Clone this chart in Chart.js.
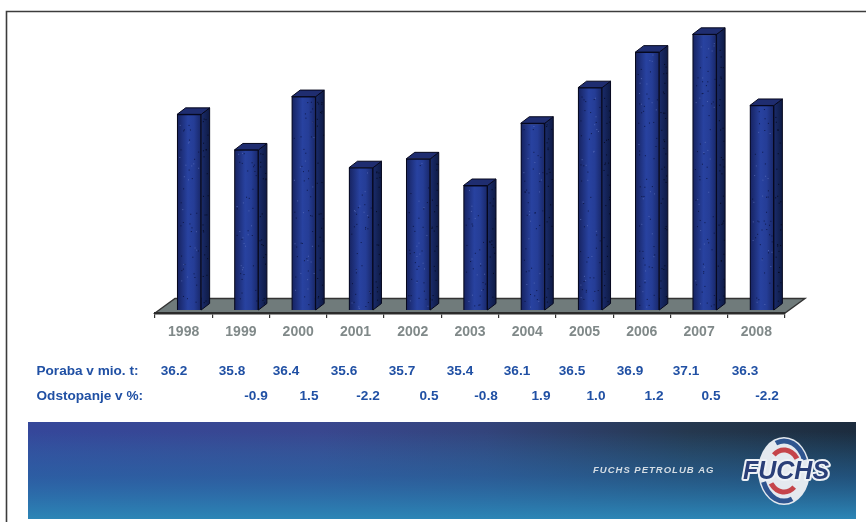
<!DOCTYPE html>
<html>
<head>
<meta charset="utf-8">
<style>
html,body{margin:0;padding:0;background:#fff;overflow:hidden}
#wrap{width:866px;height:522px;position:relative}
</style>
<script src="https://cdn.jsdelivr.net/npm/chart.js@4/dist/chart.umd.min.js"></script>
</head>
<body>
<div id="wrap"><canvas id="c" width="866" height="522"></canvas></div>
<script>
const years = ['1998','1999','2000','2001','2002','2003','2004','2005','2006','2007','2008'];
const consumption = [36.2,35.8,36.4,35.6,35.7,35.4,36.1,36.5,36.9,37.1,36.3];
const deviationLabels = ['','-0.9','1.5','-2.2','0.5','-0.8','1.9','1.0','1.2','0.5','-2.2'];
const consumptionLabels = ['36.2','35.8','36.4','35.6','35.7','35.4','36.1','36.5','36.9','37.1','36.3'];
const rowTitles = ['Poraba v mio. t:','Odstopanje v %:'];
const rowOneCenters = [174,232,286,344,402,460,517,572,630,686,745];
const rowTwoCenters = [0,256,309,368,429,486,541,596,654,711,767];
const bannerCaption = 'FUCHS PETROLUB AG';
const logoWord = 'FUCHS';

const SHIFT_X = 5.5, SHIFT_Y = -3, DX = 8.5, DY = 6.5, BAR_W = 24;
const BLUE = '#2050a4';

function hash(a){const s=Math.sin(a*127.1+11.7)*43758.5453;return s-Math.floor(s);}

const scene = {
  id:'scene',
  beforeDraw(chart){
    const c = chart.ctx, a = chart.chartArea;
    c.save();
    c.strokeStyle='#3c3c3c'; c.lineWidth=1.6;
    c.beginPath(); c.moveTo(6.5,522); c.lineTo(6.5,11.5); c.lineTo(866,11.5); c.stroke();
    c.fillStyle='#707b7b'; c.strokeStyle='#333'; c.lineWidth=1.4;
    c.beginPath();
    c.moveTo(a.left,a.bottom); c.lineTo(a.left+20,a.bottom-14.5);
    c.lineTo(a.right+20,a.bottom-14.5); c.lineTo(a.right,a.bottom); c.closePath();
    c.fill(); c.stroke();
    c.restore();
    drawBanner(c);
    drawTable(c);
  },
  beforeDatasetsDraw(chart){
    const c = chart.ctx;
    c.save();
    c.translate(SHIFT_X,SHIFT_Y);
    chart.getDatasetMeta(0).data.forEach(b=>{
      const l=b.x-BAR_W/2, r=b.x+BAR_W/2, t=b.y, base=b.base;
      c.lineWidth=1; c.strokeStyle='#06081e';
      const g=c.createLinearGradient(r,0,r+DX,0);
      g.addColorStop(0,'#1a2c6c'); g.addColorStop(1,'#0e1a44');
      c.fillStyle=g;
      c.beginPath(); c.moveTo(r,t); c.lineTo(r+DX,t-DY); c.lineTo(r+DX,base-DY); c.lineTo(r,base); c.closePath();
      c.fill(); c.stroke();
      c.fillStyle='#1f2d70';
      c.beginPath(); c.moveTo(l,t); c.lineTo(l+DX,t-DY); c.lineTo(r+DX,t-DY); c.lineTo(r,t); c.closePath();
      c.fill(); c.stroke();
    });
  },
  afterDatasetsDraw(chart){
    const c = chart.ctx;
    chart.getDatasetMeta(0).data.forEach((b,i)=>{
      const l=b.x-BAR_W/2, t=b.y, h=b.base-b.y;
      const n=Math.round(h/4);
      for(let k=0;k<n;k++){
        const px=l+2+hash(i*31+k*1.7)*(BAR_W-4), py=t+2+hash(i*17+k*2.3+5)*(h-4);
        c.fillStyle = k%3 ? 'rgba(8,14,50,0.75)' : 'rgba(95,115,190,0.7)';
        c.fillRect(px,py,1,1);
      }
      for(let k=0;k<Math.round(h/8);k++){
        const px=l+BAR_W+1+hash(i*7+k*3.1)*(DX-2), py=t+hash(i*13+k*1.3+9)*(h-6);
        c.fillStyle='rgba(2,6,22,0.8)';
        c.fillRect(px,py,1,1);
      }
    });
    c.restore();
  }
};

function drawTable(c){
  c.save();
  c.fillStyle=BLUE; c.font='bold 13.6px "Liberation Sans"'; c.textBaseline='middle';
  c.textAlign='left';
  c.fillText(rowTitles[0],36.5,371.5);
  c.fillText(rowTitles[1],36.5,396.5);
  c.textAlign='center';
  consumptionLabels.forEach((s,i)=>c.fillText(s,rowOneCenters[i],371.5));
  deviationLabels.forEach((s,i)=>{ if(s) c.fillText(s,rowTwoCenters[i],396.5); });
  c.restore();
}

function drawBanner(c){
  const x=28,y=422,w=828,h=97;
  c.save();
  let g=c.createLinearGradient(x,0,x+w,0);
  g.addColorStop(0,'#35479a'); g.addColorStop(.35,'#39478f'); g.addColorStop(.55,'#33447c');
  g.addColorStop(.8,'#25384f'); g.addColorStop(1,'#1c2c3e');
  c.fillStyle=g; c.fillRect(x,y,w,h);
  g=c.createLinearGradient(0,y,0,y+h);
  g.addColorStop(.1,'rgba(40,125,180,0)'); g.addColorStop(.55,'rgba(38,110,170,.55)'); g.addColorStop(1,'rgba(44,134,182,1)');
  c.fillStyle=g; c.fillRect(x,y,w,h);

  c.fillStyle='#d5dde4'; c.font='italic bold 9.5px "Liberation Sans"';
  c.textAlign='left'; c.textBaseline='middle';
  c.letterSpacing='1px';
  c.fillText(bannerCaption,593,470.5);
  c.letterSpacing='0px';

  const cx=784,cy=471;
  c.fillStyle='#e4e9ef';
  c.beginPath(); c.ellipse(cx,cy,26,34,0,0,Math.PI*2); c.fill();
  c.strokeStyle='#2f5590'; c.lineWidth=5;
  c.beginPath(); c.ellipse(cx,cy,22,30,0,-Math.PI*0.62,-Math.PI*0.12); c.stroke();
  c.beginPath(); c.ellipse(cx,cy,22,30,0,Math.PI*0.38,Math.PI*0.88); c.stroke();
  c.strokeStyle='#c5444a'; c.lineWidth=5;
  c.beginPath(); c.ellipse(cx,cy,16,21,0,-Math.PI*0.72,-Math.PI*0.2); c.stroke();
  c.beginPath(); c.ellipse(cx,cy,16,21,0,Math.PI*0.28,Math.PI*0.8); c.stroke();
  c.fillStyle='#2a3f78'; c.strokeStyle='#eef2f6'; c.lineWidth=4; c.lineJoin='round';
  c.font='italic bold 25px "Liberation Sans"'; c.textAlign='center';
  c.strokeText(logoWord,cx+2,cy+1);
  c.fillText(logoWord,cx+2,cy+1);
  c.restore();
}

const ctx = document.getElementById('c').getContext('2d');
new Chart(ctx,{
  type:'bar',
  data:{labels:years,datasets:[{
    data:consumption,
    base:34,
    barThickness:BAR_W,
    borderWidth:1.2,
    borderColor:'#06081e',
    backgroundColor(context){
      if(context.dataIndex===undefined) return '#26409a';
      const px=context.chart.scales.x.getPixelForValue(context.dataIndex);
      if(!isFinite(px)) return '#26409a';
      const g=context.chart.ctx.createLinearGradient(px-BAR_W/2,0,px+BAR_W/2,0);
      g.addColorStop(0,'#16225f'); g.addColorStop(.45,'#2842a0'); g.addColorStop(.7,'#253d96'); g.addColorStop(1,'#182768');
      return g;
    }
  }]},
  options:{
    responsive:false,animation:false,
    layout:{padding:{left:155,right:81,top:12,bottom:0}},
    plugins:{legend:{display:false},title:{display:false},tooltip:{enabled:false}},
    scales:{
      x:{
        afterFit(s){s.height=209;},
        border:{display:true,color:'#2b2b2b',width:2.4},
        grid:{drawOnChartArea:false,drawTicks:true,tickLength:5,color:'#333',lineWidth:1.2},
        ticks:{color:'#808989',font:{family:'"Liberation Sans"',size:14,weight:'bold'},padding:6,maxRotation:0,autoSkip:false}
      },
      y:{display:false,min:34,max:37.385}
    }
  },
  plugins:[scene]
});
</script>
</body>
</html>
